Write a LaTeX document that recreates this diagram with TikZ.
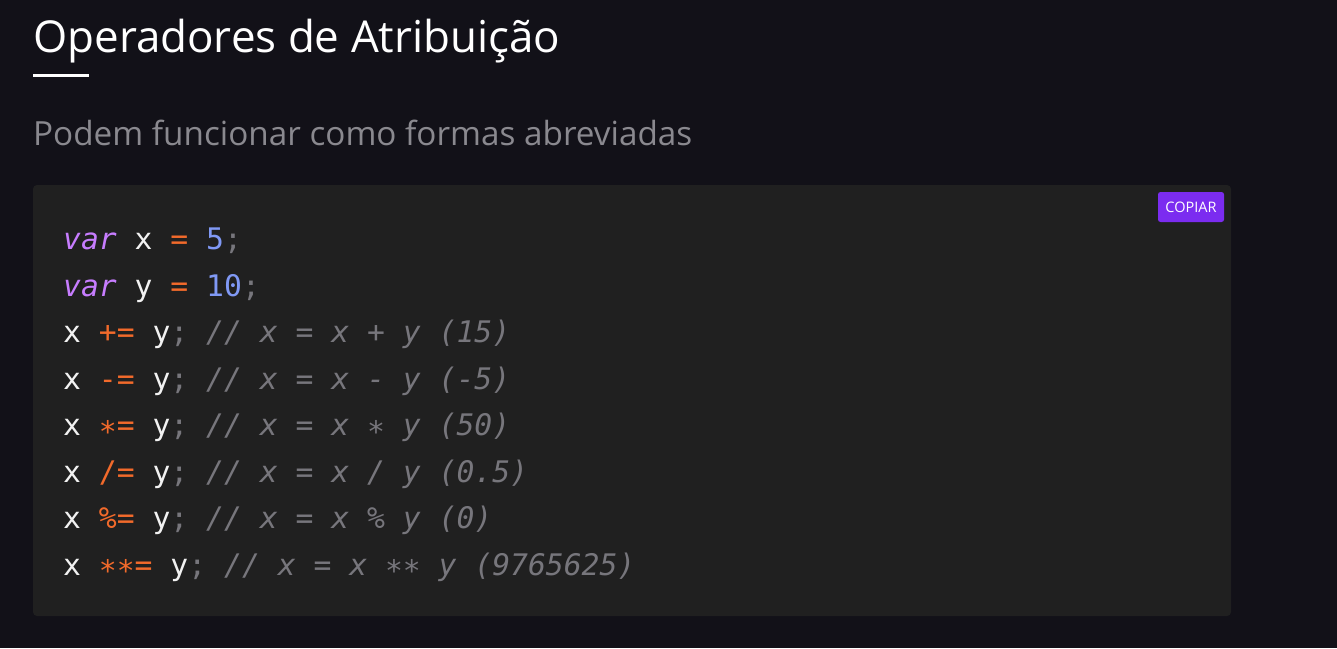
\documentclass[tikz,border=0pt]{standalone}
\usepackage{fontspec}
\setmainfont{Open Sans}
\newfontfamily\codefont{DejaVu Sans Mono}
\definecolor{pagebg}{HTML}{121118}
\definecolor{boxbg}{HTML}{202020}
\definecolor{kwpurple}{HTML}{C77DFF}
\definecolor{oporange}{HTML}{F26A2B}
\definecolor{numblue}{HTML}{8099F5}
\definecolor{codewhite}{HTML}{F2F2F2}
\definecolor{cmtgray}{HTML}{77767C}
\definecolor{subgray}{HTML}{8A898F}
\definecolor{btnpurple}{HTML}{7B2CF0}
\newcommand{\kw}[1]{\textcolor{kwpurple}{\itshape #1}}
\newcommand{\op}[1]{\textcolor{oporange}{#1}}
\newcommand{\nm}[1]{\textcolor{numblue}{#1}}
\newcommand{\cm}[1]{\textcolor{cmtgray}{#1}}
\newcommand{\ci}[1]{\textcolor{cmtgray}{\itshape #1}}
\newcommand{\lowstar}{\raisebox{-0.22em}{*}}
\begin{document}
\begin{tikzpicture}[x=1pt,y=-1pt,
  codeline/.style={anchor=base west,inner sep=0pt,text=codewhite,font=\codefont\fontsize{29.7}{30}\selectfont}]
\fill[pagebg] (0,0) rectangle (1337,648);
\useasboundingbox (0,0) rectangle (1337,648);
% title
\node[anchor=base west,inner sep=0pt,text=white] (title) at (33,52)
  {\resizebox{527pt}{!}{Operadores de Atribuição}};
\fill[white] (33,74) rectangle (89,76.5);
% subtitle
\node[anchor=base west,inner sep=0pt,text=subgray] (sub) at (33,145)
  {\resizebox{659pt}{!}{Podem funcionar como formas abreviadas}};
% code box
\fill[boxbg,rounded corners=4pt] (33,185) rectangle (1231,616);
% button
\node[fill=btnpurple,rounded corners=2.5pt,minimum width=66pt,minimum height=30pt,inner sep=0pt,text=white,font=\fontsize{14.5}{16}\selectfont] (btn) at (1191,207) {COPIAR};
% code lines
\node[codeline] (l1) at (63,249.5) {\kw{var} x \op{=} \nm{5}\cm{;}};
\node[codeline] (l2) at (63,296) {\kw{var} y \op{=} \nm{10}\cm{;}};
\node[codeline] (l3) at (63,342.5) {x \op{+=} y\cm{;} \ci{// x = x + y (15)}};
\node[codeline] (l4) at (63,389) {x \op{-=} y\cm{;} \ci{// x = x - y (-5)}};
\node[codeline] (l5) at (63,435.5) {x \op{\lowstar=} y\cm{;} \ci{// x = x \lowstar{} y (50)}};
\node[codeline] (l6) at (63,482) {x \op{/=} y\cm{;} \ci{// x = x / y (0.5)}};
\node[codeline] (l7) at (63,528.5) {x \op{\%=} y\cm{;} \ci{// x = x \% y (0)}};
\node[codeline] (l8) at (63,575) {x \op{\lowstar\lowstar=} y\cm{;} \ci{// x = x \lowstar\lowstar{} y (9765625)}};
\end{tikzpicture}
\end{document}
